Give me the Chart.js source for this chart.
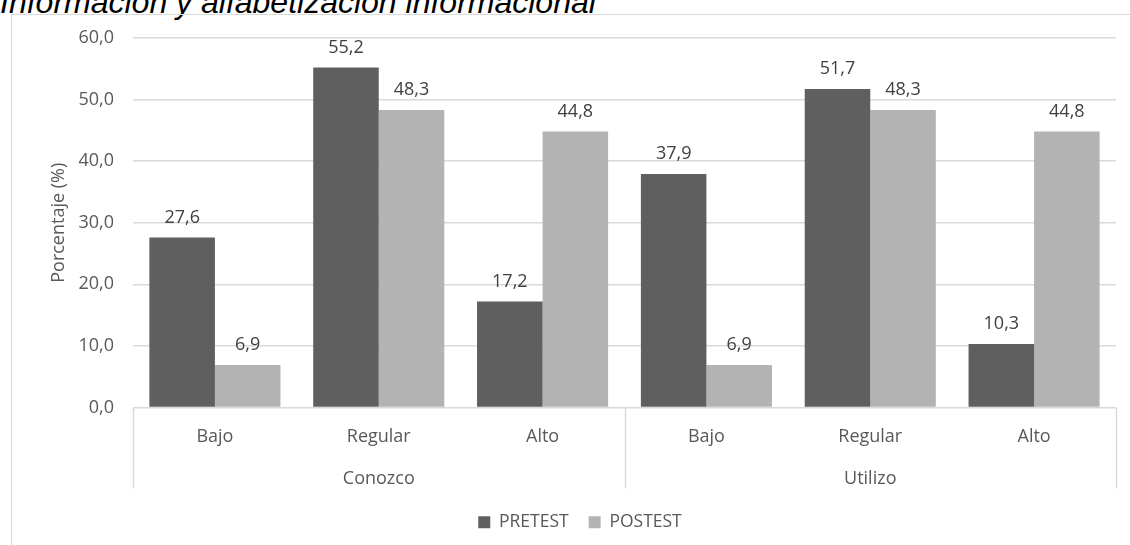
<!DOCTYPE html>
<html>
<head>
<meta charset="utf-8">
<script src="https://cdn.jsdelivr.net/npm/chart.js@4.4.1/dist/chart.umd.min.js"></script>
<style>
  body { margin: 0; background: #fff; width: 1130px; height: 545px; overflow: hidden; position: relative; }
  #titulo { position: absolute; left: 0; top: -14px; font: italic 32px "Liberation Sans", Arial, sans-serif; line-height: 32px; color: #000; white-space: nowrap; }
  #marco { position: absolute; left: 11px; top: 14px; width: 1119px; height: 531px; box-sizing: border-box; border-left: 1px solid #d9d9d9; border-top: 1px solid #d9d9d9; }
  #grafica { display: block; }
</style>
</head>
<body>
<div id="titulo">Información y alfabetización informacional</div>
<div id="marco"><canvas id="grafica" width="1118" height="530"></canvas></div>
<script>
// datos
const categorias = ['Bajo', 'Regular', 'Alto', 'Bajo', 'Regular', 'Alto'];
const grupos = ['Conozco', 'Utilizo'];
const pretest = [27.6, 55.2, 17.2, 37.9, 51.7, 10.3];
const postest = [6.9, 48.3, 44.8, 6.9, 48.3, 44.8];
const ticksY = [0, 10, 20, 30, 40, 50, 60];

const fuente = '"Open Sans", sans-serif';
const coma = v => v.toFixed(1).replace('.', ',');

// etiquetas de valor encima de cada barra
const etiquetasValor = {
    id: 'etiquetasValor',
    afterDatasetsDraw(chart) {
        const ctx = chart.ctx;
        ctx.save();
        ctx.font = '18px ' + fuente;
        ctx.fillStyle = '#404040';
        ctx.textAlign = 'center';
        ctx.textBaseline = 'alphabetic';
        chart.data.datasets.forEach((ds, i) => {
            chart.getDatasetMeta(i).data.forEach((bar, j) => {
                ctx.fillText(coma(ds.data[j]), bar.x, bar.y - 15);
            });
        });
        ctx.restore();
    }
};

// separadores verticales de los grupos
const separadores = {
    id: 'separadores',
    afterLayout(chart) {
        // la leyenda va un poco a la derecha del centro del lienzo
        chart.legend.left += 16;
        chart.legend.right += 16;
    },
    afterDraw(chart) {
        const x = chart.scales.x;
        const area = chart.chartArea;
        const medio = (x.getPixelForValue(1) - x.getPixelForValue(0)) / 2;
        const ctx = chart.ctx;
        ctx.save();
        ctx.strokeStyle = '#d9d9d9';
        ctx.lineWidth = 1.5;
        [0, 3, 6].forEach(i => {
            const px = Math.round(x.getPixelForValue(i) - medio) + 0.5;
            ctx.beginPath();
            ctx.moveTo(px, area.bottom);
            ctx.lineTo(px, area.bottom + 81);
            ctx.stroke();
        });
        ctx.restore();
    }
};

new Chart(document.getElementById('grafica'), {
    type: 'bar',
    data: {
        labels: categorias,
        datasets: [
            { label: 'PRETEST', data: pretest, backgroundColor: '#5f5f5f', categoryPercentage: 0.8, barPercentage: 1.0 },
            { label: 'POSTEST', data: postest, backgroundColor: '#b3b3b3', categoryPercentage: 0.8, barPercentage: 1.0 }
        ]
    },
    options: {
        responsive: false,
        animation: false,
        layout: { padding: { top: 23, right: 14, left: 0, bottom: 4 } },
        plugins: {
            legend: {
                position: 'bottom',
                labels: {
                    boxWidth: 12, boxHeight: 12, padding: 20,
                    color: '#595959',
                    font: { family: fuente, size: 17.5 }
                }
            },
            tooltip: { enabled: false }
        },
        scales: {
            y: {
                min: 0, max: 60,
                afterBuildTicks: s => { s.ticks = ticksY.map(v => ({ value: v })); },
                afterFit: s => { s.width = 121; s.paddingTop = 5; s.paddingBottom = 5; },
                ticks: {
                    color: '#595959', padding: 19,
                    font: { family: fuente, size: 18 },
                    callback: v => coma(v)
                },
                grid: { color: '#d9d9d9', lineWidth: 1.5, drawTicks: false },
                border: { display: false },
                title: {
                    display: true, text: 'Porcentaje (%)', color: '#595959',
                    font: { family: fuente, size: 18 },
                    padding: { top: 36, bottom: 0 }
                }
            },
            x: {
                afterFit: s => { s.height = 50; },
                ticks: { color: '#595959', padding: 19, font: { family: fuente, size: 18 } },
                grid: { display: false, drawTicks: false },
                border: { display: false }
            },
            x2: {
                type: 'category',
                labels: grupos,
                position: 'bottom',
                afterFit: s => { s.height = 36; },
                ticks: { color: '#595959', padding: 11, font: { family: fuente, size: 18 } },
                grid: { display: false, drawTicks: false },
                border: { display: false }
            }
        }
    },
    plugins: [etiquetasValor, separadores]
});
</script>
</body>
</html>
